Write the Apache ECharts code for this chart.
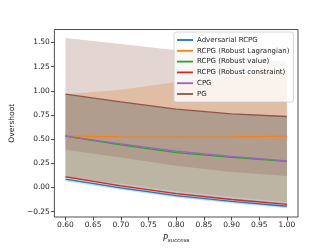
<!DOCTYPE html>
<html>
<head>
<meta charset="utf-8">
<script src="https://cdn.jsdelivr.net/npm/echarts@6/dist/echarts.min.js"></script>
<style>html,body{margin:0;padding:0;background:#fff;}#c{width:332px;height:249px;}</style>
</head>
<body>
<div id="c"></div>
<script>
// ---- data ----
const xs = [0.6, 0.7, 0.8, 0.9, 1.0];
const xTicks = [0.6, 0.65, 0.7, 0.75, 0.8, 0.85, 0.9, 0.95, 1.0];
const yTicks = [-0.25, 0, 0.25, 0.5, 0.75, 1.0, 1.25, 1.5];

const names = ['Adversarial RCPG', 'RCPG (Robust Lagrangian)', 'RCPG (Robust value)',
               'RCPG (Robust constraint)', 'CPG', 'PG'];

const advMean = [0.085, -0.005, -0.085, -0.145, -0.195];
const advLo   = [0.065, -0.025, -0.105, -0.165, -0.215];
const advHi   = [0.098, 0.008, -0.072, -0.132, -0.182];

const lagMean = [0.534, 0.524, 0.520, 0.522, 0.530];
const lagLo   = [0.100, 0.040, -0.040, -0.100, -0.150];
const lagHi   = [0.965, 1.010, 1.090, 1.140, 1.200];

const valMean = [0.530, 0.440, 0.360, 0.310, 0.270];
const valLo   = [0.110, 0.015, -0.065, -0.125, -0.170];
const valHi   = [0.965, 0.885, 0.810, 0.760, 0.734];

const conMean = [0.110, 0.015, -0.065, -0.125, -0.175];
const conLo   = [0.100, 0.005, -0.075, -0.135, -0.185];
const conHi   = [0.120, 0.025, -0.055, -0.115, -0.165];

const cpgMean = [0.530, 0.450, 0.375, 0.320, 0.275];
const cpgLo   = [0.110, 0.015, -0.065, -0.125, -0.170];
const cpgHi   = [0.965, 0.885, 0.810, 0.760, 0.734];

const pgMean  = [0.965, 0.885, 0.810, 0.760, 0.734];
const pgLo    = [0.389, 0.310, 0.225, 0.160, 0.118];
const pgHi    = [1.545, 1.485, 1.420, 1.360, 1.300];

const colors = ['#1f77b4', '#ff7f0e', '#2ca02c', '#d62728', '#9467bd', '#8c564b'];
const rgb = [[31,119,180],[255,127,14],[44,160,44],[214,39,40],[148,103,189],[140,86,75]];
const ALPHA = 0.25;

const means = [advMean, lagMean, valMean, conMean, cpgMean, pgMean];
const los = [advLo, lagLo, valLo, conLo, cpgLo, pgLo];
const his = [advHi, lagHi, valHi, conHi, cpgHi, pgHi];

const series = [];
// bands
for (let k = 0; k < names.length; k++) {
  const lo = los[k], hi = his[k];
  const c = rgb[k];
  series.push({
    type: 'custom',
    name: names[k] + ' band',
    silent: true,
    z: 1,
    data: xs.map((x, i) => [x, lo[i], hi[i]]),
    encode: { x: 0, y: [1, 2] },
    renderItem: function (params, api) {
      if (params.dataIndex !== 0) return;
      const pts = [];
      for (let i = 0; i < xs.length; i++) pts.push(api.coord([xs[i], hi[i]]));
      for (let i = xs.length - 1; i >= 0; i--) pts.push(api.coord([xs[i], lo[i]]));
      return {
        type: 'polygon',
        shape: { points: pts },
        style: { fill: 'rgba(' + c[0] + ',' + c[1] + ',' + c[2] + ',' + ALPHA + ')', stroke: null }
      };
    }
  });
}
// lines
for (let k = 0; k < names.length; k++) {
  series.push({
    type: 'line',
    name: names[k],
    data: xs.map((x, i) => [x, means[k][i]]),
    showSymbol: false,
    symbol: 'none',
    z: 3,
    lineStyle: { color: colors[k], width: 1.3 },
    itemStyle: { color: colors[k] }
  });
}

const fmt = v => { const s = Number(v).toFixed(2); return s.replace('-', '\u2212'); };

const chart = echarts.init(document.getElementById('c'), null, { renderer: 'canvas' });
chart.setOption({
  animation: false,
  backgroundColor: '#fff',
  textStyle: { fontFamily: 'DejaVu Sans' },
  grid: { left: 41, right: 34, top: 29.5, bottom: 27.5, show: true, borderColor: '#222', borderWidth: 0.8, backgroundColor: 'transparent' },
  legend: {
    data: names,
    orient: 'vertical',
    left: 174,
    top: 32,
    padding: [3, 4, 3, 3],
    itemGap: 0.8,
    itemWidth: 16,
    itemHeight: 1.8,
    icon: 'rect',
    backgroundColor: 'rgba(255,255,255,0.8)',
    borderColor: '#cccccc',
    borderWidth: 0.8,
    borderRadius: 2,
    textStyle: { fontFamily: 'DejaVu Sans', fontSize: 7, color: '#222', lineHeight: 10, padding: [0, 0, 0, -1] }
  },
  xAxis: {
    type: 'value',
    min: 0.58, max: 1.02,
    splitLine: { show: false },
    axisLine: { show: false, onZero: false },
    axisTick: { show: true, length: 3.5, customValues: xTicks, lineStyle: { color: '#222', width: 0.8 } },
    axisLabel: { customValues: xTicks, formatter: fmt, fontSize: 7.5, color: '#222', margin: 4.5, fontFamily: 'DejaVu Sans' },
    name: '{p|P}{s|success}',
    nameLocation: 'middle',
    nameGap: 17,
    nameTextStyle: {
      rich: {
        p: { fontSize: 8, fontStyle: 'italic', fontFamily: 'DejaVu Sans', color: '#222' },
        s: { fontSize: 5.5, fontStyle: 'italic', fontFamily: 'DejaVu Sans', color: '#222', padding: [4, 0, 0, 0] }
      }
    }
  },
  yAxis: {
    type: 'value',
    min: -0.306, max: 1.634,
    splitLine: { show: false },
    axisLine: { show: false, onZero: false },
    axisTick: { show: true, length: 3.5, customValues: yTicks, lineStyle: { color: '#222', width: 0.8 } },
    axisLabel: { customValues: yTicks, formatter: fmt, fontSize: 7.5, color: '#222', margin: 4.5, fontFamily: 'DejaVu Sans' },
    name: 'Overshoot',
    nameLocation: 'middle',
    nameGap: 30,
    nameTextStyle: { fontSize: 7.5, color: '#222', fontFamily: 'DejaVu Sans' }
  },
  series: series
});
</script>
</body>
</html>
